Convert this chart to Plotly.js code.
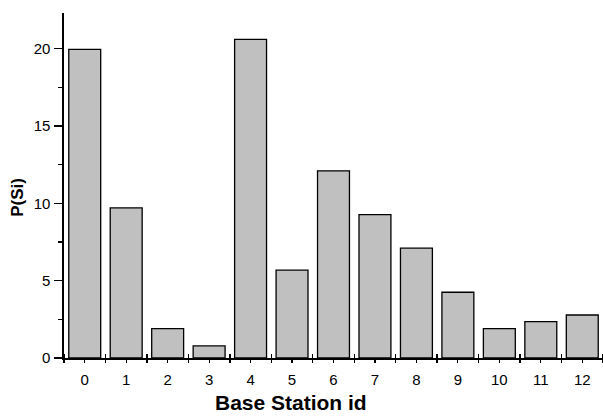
<!DOCTYPE html>
<html>
<head>
<meta charset="utf-8">
<script src="https://cdn.plot.ly/plotly-3.0.1.min.js"></script>
<style>html,body{margin:0;padding:0;background:#fff;}#chart{width:603px;height:417px;}</style>
</head>
<body>
<div id="chart"></div>
<script>
const stationIds = [0, 1, 2, 3, 4, 5, 6, 7, 8, 9, 10, 11, 12];
const tickLabels = ["0", "1", "2", "3", "4", "5", "6", "7", "8", "9", "10", "11", "12"];
const probabilities = [19.95, 9.7, 1.9, 0.78, 20.6, 5.68, 12.1, 9.27, 7.1, 4.25, 1.9, 2.35, 2.78];
const boundaries = stationIds.map(v => v - 0.5).concat([stationIds[stationIds.length - 1] + 0.5]);
const yTicks = [0, 5, 10, 15, 20];

const font = "'Liberation Sans', Arial, sans-serif";

const data = [
  {
    type: "bar",
    x: stationIds,
    y: probabilities,
    width: 0.77,
    marker: { color: "#c0c0c0", line: { color: "#000", width: 1.3 } },
    hoverinfo: "none",
    showlegend: false
  },
  {
    type: "scatter",
    x: [],
    y: [],
    xaxis: "x2",
    showlegend: false,
    hoverinfo: "none"
  }
];

const layout = {
  width: 603,
  height: 417,
  margin: { l: 64, r: 0, t: 13, b: 59 },
  paper_bgcolor: "#fff",
  plot_bgcolor: "#fff",
  font: { family: font, size: 15, color: "#000" },
  xaxis: {
    range: [-0.5, 12.5],
    tickvals: stationIds,
    ticktext: tickLabels,
    ticks: "outside",
    ticklen: 3,
    tickwidth: 1.2,
    tickcolor: "#000",
    showline: true,
    linecolor: "#000",
    linewidth: 1.6,
    showgrid: false,
    zeroline: false,
    fixedrange: true,
    ticklabelstandoff: 4,
    tickfont: { family: font, size: 15, color: "#000" },
    minor: { tickvals: boundaries, ticks: "inside", ticklen: 4, tickwidth: 1.4, tickcolor: "#000", showgrid: false }
  },
  xaxis2: {
    overlaying: "x",
    anchor: "y",
    side: "bottom",
    range: [-0.5, 12.5],
    tickvals: boundaries,
    ticks: "outside",
    ticklen: 4,
    tickwidth: 1.4,
    tickcolor: "#000",
    showticklabels: false,
    showline: false,
    showgrid: false,
    zeroline: false,
    fixedrange: true
  },
  yaxis: {
    range: [0, 22.3],
    tickvals: yTicks,
    ticks: "outside",
    ticklen: 8,
    tickwidth: 1.4,
    tickcolor: "#000",
    showline: true,
    linecolor: "#000",
    linewidth: 1.6,
    showgrid: false,
    zeroline: false,
    fixedrange: true,
    ticklabelstandoff: 1,
    tickfont: { family: font, size: 15, color: "#000" },
    minor: { dtick: 2.5, tick0: 0, ticks: "outside", ticklen: 4, tickwidth: 1.2, tickcolor: "#000", showgrid: false }
  },
  annotations: [
    {
      text: "<b>Base Station id</b>",
      xref: "paper", yref: "paper",
      x: (291 - 64) / 539, y: -(403 - 358.5) / 345.5,
      xanchor: "center", yanchor: "middle",
      showarrow: false,
      font: { family: font, size: 21, color: "#000" }
    },
    {
      text: "<b>P(Si)</b>",
      xref: "paper", yref: "paper",
      x: -(64 - 18) / 539, y: (358.5 - 198) / 345.5,
      xanchor: "center", yanchor: "middle",
      textangle: -90,
      showarrow: false,
      font: { family: font, size: 17, color: "#000" }
    }
  ]
};

Plotly.newPlot("chart", data, layout, { displayModeBar: false, staticPlot: true });
</script>
</body>
</html>
